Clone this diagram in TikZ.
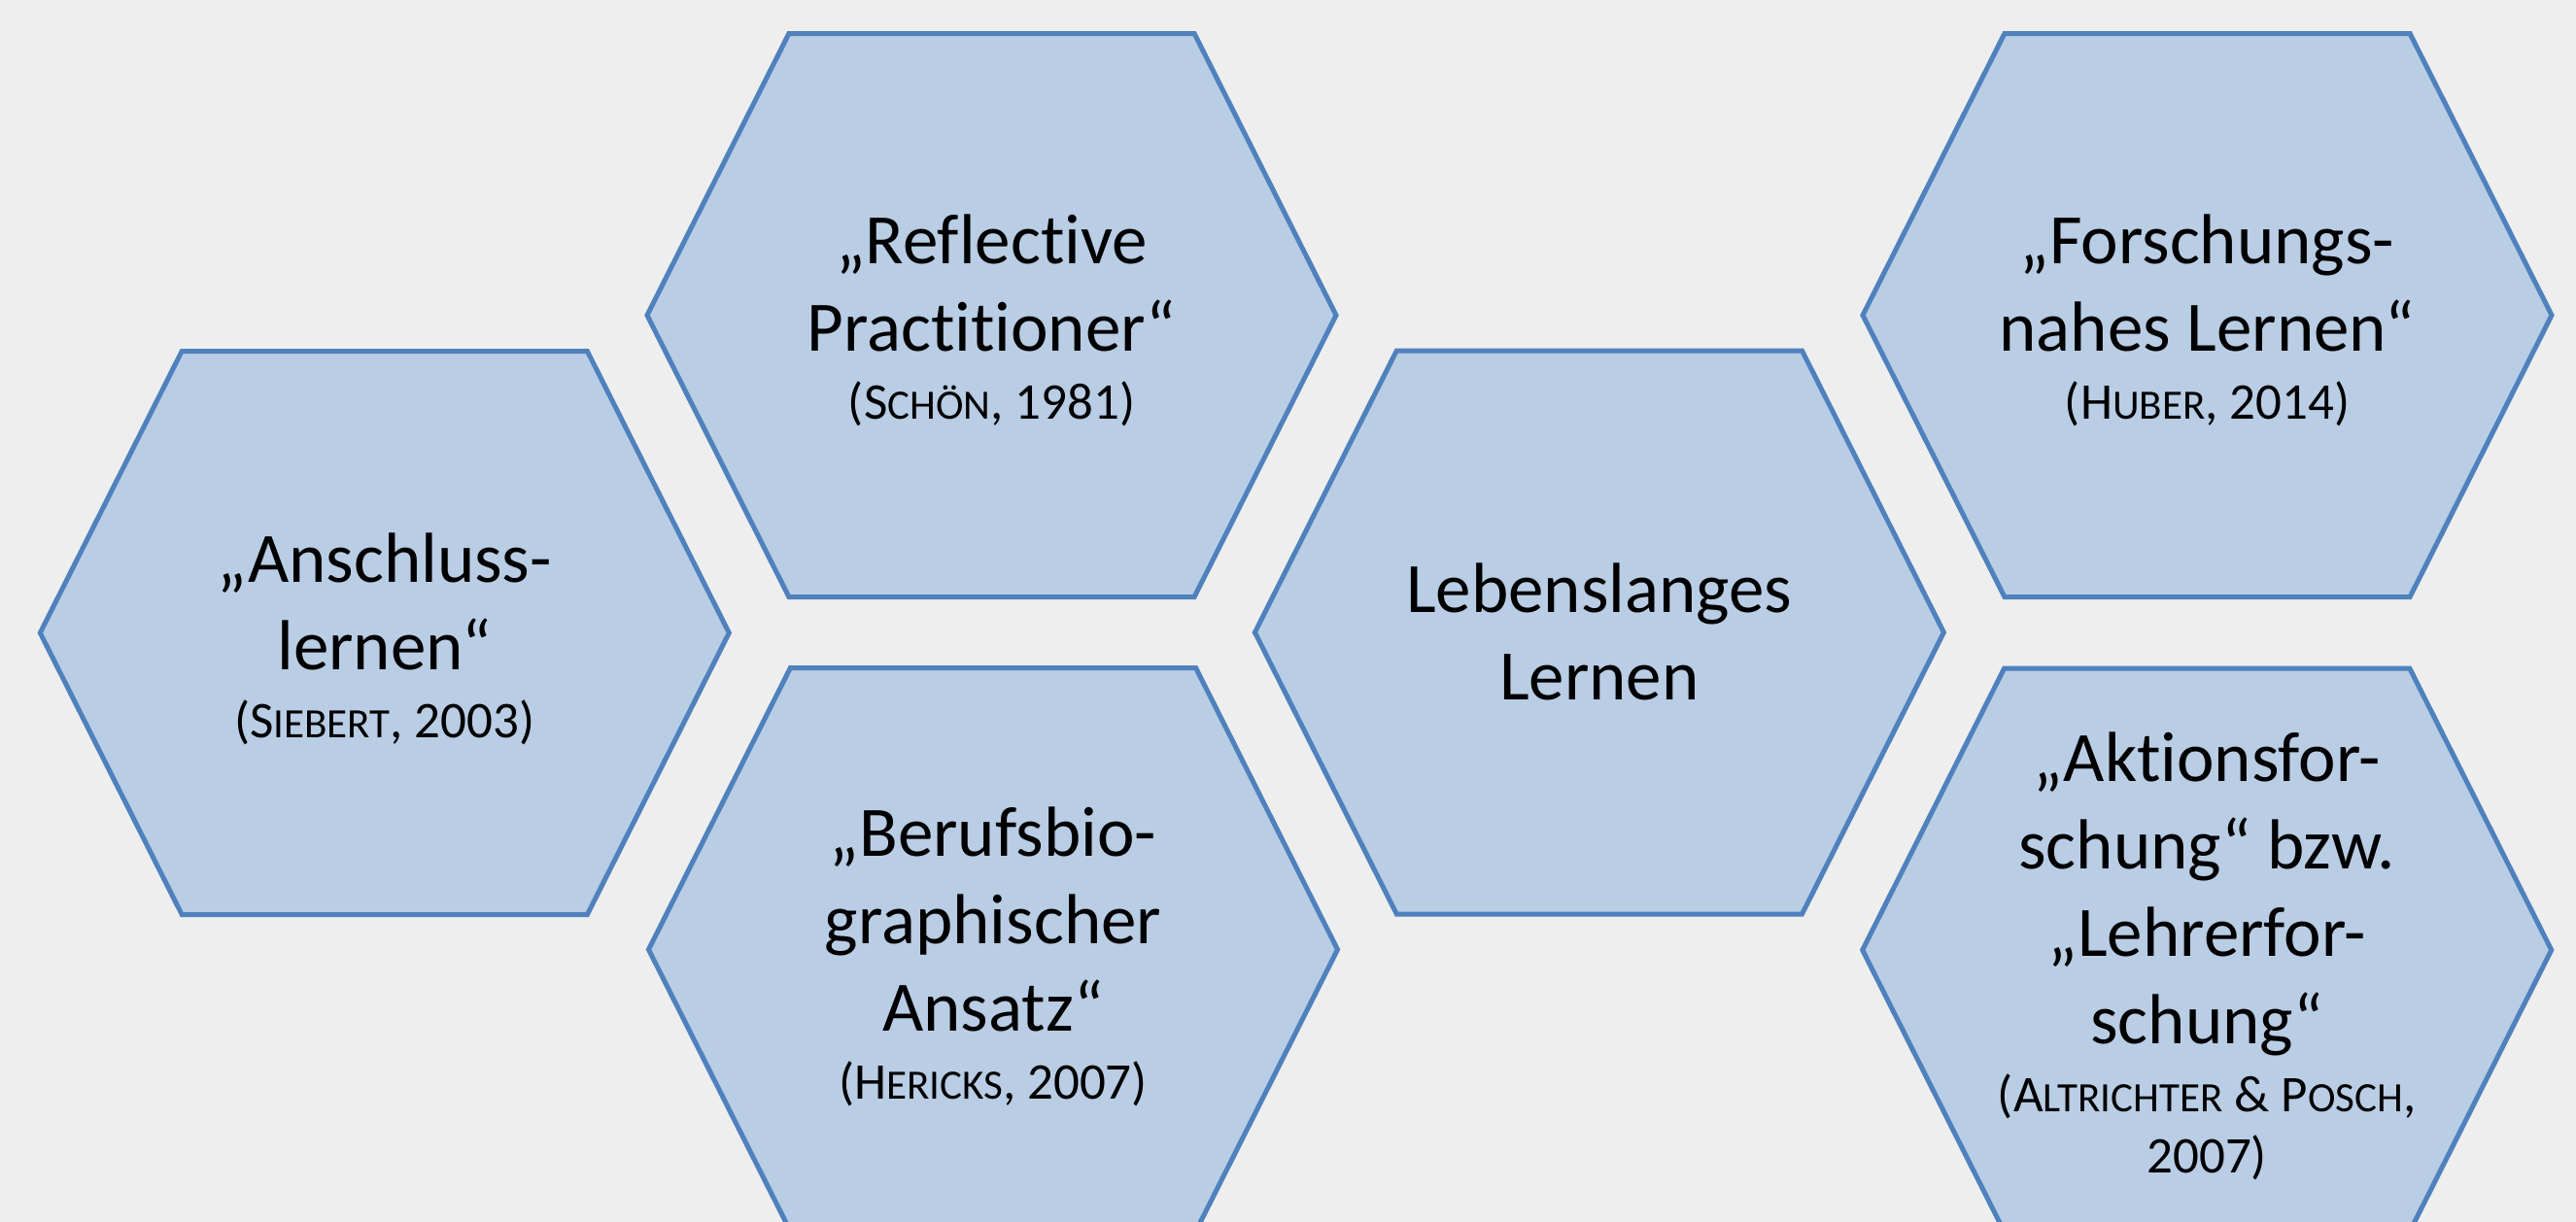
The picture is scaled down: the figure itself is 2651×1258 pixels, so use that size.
\documentclass[tikz,border=0pt]{standalone}
\usepackage{fontspec}
\setmainfont{Carlito}[Ligatures={CommonOff,ContextualOff}]
\definecolor{bgc}{HTML}{EEEEEE}
\definecolor{hexfill}{HTML}{B9CDE5}
\definecolor{hexdraw}{HTML}{4F81BD}
\newcommand\citefont{\fontsize{53}{63}\selectfont}
\newcommand\mysc[1]{{\fontsize{43}{50}\selectfont #1}}
\tikzset{
  hexline/.style={fill=hexfill, draw=hexdraw, line width=5pt, line join=miter},
  hexa/.pic={\path[hexline] (-354.5,0) -- (-208.6,-290) -- (208.6,-290) -- (354.5,0) -- (208.6,290) -- (-208.6,290) -- cycle;},
  lbl/.style={anchor=base, text width=700pt, align=flush center, inner sep=0pt, font=\fontsize{73}{90}\selectfont}
}
\begin{document}
\begin{tikzpicture}[x=1pt,y=-1pt]
\useasboundingbox (0,0) rectangle (2651,1258);
\fill[bgc] (0,0) rectangle (2651,1258);
\clip (0,0) rectangle (2651,1258);
% hexagons
\pic (h1) at (395.8,651.5) {hexa};
\pic (h2) at (1020.5,324.5) {hexa};
\pic (h3) at (1022,977.5) {hexa};
\pic (h4) at (1645.9,651) {hexa};
\pic (h5) at (2271.5,324.5) {hexa};
\pic (h6) at (2271.2,978) {hexa};
% texts
\node[lbl] (t1) at (395.8,599.8) {„Anschluss-\\lernen“\\[-20pt]{\citefont (S\mysc{IEBERT}, 2003)}};
\node[lbl] (t2) at (1020.5,271) {„Reflective\\Practitioner“\\[-20pt]{\citefont (S\mysc{CHÖN}, 1981)}};
\node[lbl] (t3) at (1022,881.7) {„Berufsbio-\\graphischer\\Ansatz“\\[-20pt]{\citefont (H\mysc{ERICKS}, 2007)}};
\node[lbl] (t4) at (1645.9,630.7) {Lebenslanges\\Lernen};
\node[lbl] (t5) at (2271.5,271) {„Forschungs-\\nahes Lernen“\\[-20pt]{\citefont (H\mysc{UBER}, 2014)}};
\node[lbl] (t6) at (2271.2,804.9) {„Aktionsfor-\\schung“ bzw.\\„Lehrerfor-\\schung“\\[-20pt]{\citefont (A\mysc{LTRICHTER} \& P\mysc{OSCH},}\\[-27pt]{\citefont 2007)}};
\end{tikzpicture}
\end{document}
